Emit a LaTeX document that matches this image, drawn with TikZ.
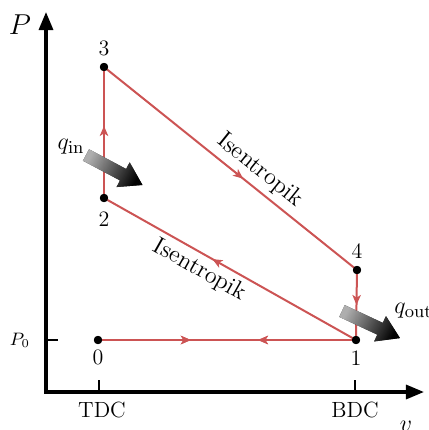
\documentclass[tikz,border=0pt]{standalone}
\usetikzlibrary{arrows.meta,decorations.markings}
\definecolor{cycred}{RGB}{204,84,84}
\begin{document}
\begin{tikzpicture}[x=0.5pt,y=-0.5pt,
  axisline/.style={line width=1.6pt,line join=miter,{Triangle[length=9pt,width=7pt]}-{Triangle[length=9pt,width=7pt]}},
  tickline/.style={line width=0.6pt},
  cycline/.style={draw=cycred,line width=1pt},
  midarrow/.style={postaction={decorate},decoration={markings,mark=at position #1 with {\arrow[cycred]{Stealth[length=5pt,width=4.2pt,inset=1.3pt]}}}},
  midarrowrev/.style={postaction={decorate},decoration={markings,mark=at position #1 with {\arrowreversed[cycred]{Stealth[length=5pt,width=4.2pt,inset=1.3pt]}}}},
  dot/.style={circle,fill=black,inner sep=0pt,minimum size=4pt},
  lbl/.style={font=\fontsize{11}{13}\selectfont,inner sep=1pt},
  heat/.style={top color=gray!50,bottom color=black,shading angle=62,fill opacity=0.9}
]
\useasboundingbox (0,0) rectangle (429,430);
\clip (0,0) rectangle (429,430);

% axes
\coordinate (O) at (46,392);
\coordinate (ytip) at (46,12);
\coordinate (xtip) at (424,392);
\draw[axisline] (ytip) -- (O) -- (xtip);

% ticks
\coordinate (tT) at (99,392);
\coordinate (tB) at (355,392);
\coordinate (tP) at (46,340);
\draw[tickline] (tT) -- ++(0,-12);
\draw[tickline] (tB) -- ++(0,-12);
\draw[tickline] (tP) -- ++(12,0);

% state points
\node[dot] (n0) at (98,340) {};
\node[dot] (n1) at (356,340) {};
\node[dot] (n2) at (104,198) {};
\node[dot] (n3) at (104,67) {};
\node[dot] (n4) at (357,270) {};

% cycle
\draw[cycline,midarrow=0.36,midarrowrev=0.62] (n0.center) -- (n1.center);
\draw[cycline,midarrow=0.57] (n1.center) -- (n2.center);
\draw[cycline,midarrow=0.55] (n2.center) -- (n3.center);
\draw[cycline,midarrow=0.55] (n3.center) -- (n4.center);
\draw[cycline,midarrow=0.5] (n4.center) -- (n1.center);

% redraw dots on top
\foreach \p in {n0,n1,n2,n3,n4} \fill (\p.center) circle[radius=2.1pt];

% heat arrows
\fill[heat] (89.05,149.26) -- (126.14,168.96) -- (129.66,162.34) -- (142.5,185.0)
  -- (116.52,187.06) -- (120.04,180.44) -- (82.95,160.74) -- cycle;
\fill[heat] (344.75,305.11) -- (382.8,322.88) -- (385.97,316.09) -- (400.0,338.1)
  -- (374.13,341.45) -- (377.3,334.66) -- (339.25,316.89) -- cycle;

% labels
\node[lbl] (l3) at (104,48) {3};
\node[lbl] (l2) at (104,219) {2};
\node[lbl] (l4) at (357,251) {4};
\node[lbl] (l1) at (356,358) {1};
\node[lbl] (l0) at (98,357) {0};
\node[lbl] (lT) at (102,410) {TDC};
\node[lbl] (lB) at (355,410) {BDC};
\node[font=\fontsize{14.5}{16}\selectfont] (lP) at (20,25) {$P$};
\node[font=\fontsize{9}{11}\selectfont] (lP0) at (20,340) {$P_0$};
\node[font=\fontsize{12}{14}\selectfont] (lv) at (406,426) {$v$};
\node[font=\fontsize{12.5}{14}\selectfont] (lqin) at (71,147) {$q_{\mathrm{in}}$};
\node[font=\fontsize{12.5}{14}\selectfont,anchor=west,inner sep=0pt] (lqout) at (394,311) {$q_{\mathrm{out}}$};

\path (n3.center) -- (n4.center) node[pos=0.574,sloped,anchor=south,inner sep=3pt,font=\fontsize{12}{14}\selectfont] (iso1) {Isentropik};
\path (n2.center) -- (n1.center) node[pos=0.41,sloped,anchor=north,inner sep=2.5pt,font=\fontsize{12}{14}\selectfont] (iso2) {Isentropik};
\end{tikzpicture}
\end{document}
